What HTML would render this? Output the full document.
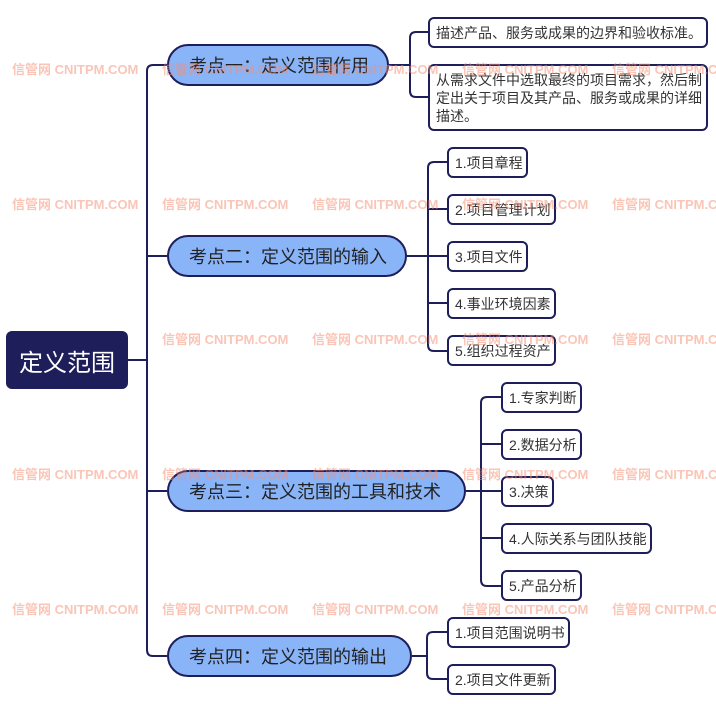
<!DOCTYPE html>
<html><head><meta charset="utf-8"><style>
body{margin:0;width:716px;height:704px;background:#fff;position:relative;overflow:hidden;font-family:"Liberation Sans","Noto Sans CJK SC",sans-serif;}
.wm{position:absolute;color:rgba(245,140,110,0.5);font-weight:bold;font-size:13px;white-space:nowrap;z-index:5;}
.n{position:absolute;box-sizing:border-box;border:2px solid #1e1f5a;background:#fff;border-radius:6px;color:#333;font-size:14px;display:flex;align-items:center;padding-left:6px;}
.m{position:absolute;box-sizing:border-box;border:2.5px solid #1e1f5a;background:#8ab4f8;border-radius:22px;color:#222;font-size:18px;display:flex;align-items:center;padding-left:20px;}
</style></head><body>
<svg width="716" height="704" style="position:absolute;left:0;top:0" fill="none" stroke="#1e1f5a" stroke-width="2">
<path d="M128 360H147"/>
<path d="M167 65H153Q147 65 147 71V650Q147 656 153 656H167"/>
<path d="M147 256H167M147 491H167"/>
<path d="M389 65H410"/>
<path d="M428 32H416Q410 32 410 38V91Q410 97 416 97H428"/>
<path d="M407 256H447"/>
<path d="M447 162H434Q428 162 428 168V345Q428 351 434 351H447"/>
<path d="M428 209H447M428 303H447"/>
<path d="M466 491H501"/>
<path d="M501 397H487Q481 397 481 403V580Q481 586 487 586H501"/>
<path d="M481 444H501M481 538H501"/>
<path d="M412 656H427"/>
<path d="M447 632H433Q427 632 427 638V673Q427 679 433 679H447"/>
</svg>
<div style="position:absolute;left:6px;top:331px;width:122px;height:58px;background:#1e1f5a;border-radius:6px;color:#fff;font-size:24px;display:flex;align-items:center;padding-left:13px;box-sizing:border-box">定义范围</div>
<div class="m" style="left:167px;top:44px;width:222px;height:42px">考点一：定义范围作用</div>
<div class="m" style="left:167px;top:235px;width:240px;height:42px">考点二：定义范围的输入</div>
<div class="m" style="left:167px;top:470px;width:299px;height:42px">考点三：定义范围的工具和技术</div>
<div class="m" style="left:167px;top:635px;width:245px;height:42px">考点四：定义范围的输出</div>
<div class="n" style="left:428px;top:17px;width:280px;height:31px">描述产品、服务或成果的边界和验收标准。</div>
<div class="n" style="left:428px;top:64px;width:280px;height:67px;line-height:18px;padding-right:4px">从需求文件中选取最终的项目需求，然后制定出关于项目及其产品、服务或成果的详细描述。</div>
<div class="n" style="left:447px;top:147px;width:81px;height:31px">1.项目章程</div>
<div class="n" style="left:447px;top:194px;width:109px;height:31px">2.项目管理计划</div>
<div class="n" style="left:447px;top:241px;width:81px;height:31px">3.项目文件</div>
<div class="n" style="left:447px;top:288px;width:109px;height:31px">4.事业环境因素</div>
<div class="n" style="left:447px;top:335px;width:109px;height:31px">5.组织过程资产</div>
<div class="n" style="left:501px;top:382px;width:81px;height:31px">1.专家判断</div>
<div class="n" style="left:501px;top:429px;width:81px;height:31px">2.数据分析</div>
<div class="n" style="left:501px;top:476px;width:53px;height:31px">3.决策</div>
<div class="n" style="left:501px;top:523px;width:151px;height:31px">4.人际关系与团队技能</div>
<div class="n" style="left:501px;top:570px;width:81px;height:31px">5.产品分析</div>
<div class="n" style="left:447px;top:617px;width:123px;height:31px">1.项目范围说明书</div>
<div class="n" style="left:447px;top:664px;width:109px;height:31px">2.项目文件更新</div>
<div class="wm" style="left:12px;top:59px">信管网 CNITPM.COM</div>
<div class="wm" style="left:162px;top:59px">信管网 CNITPM.COM</div>
<div class="wm" style="left:312px;top:59px">信管网 CNITPM.COM</div>
<div class="wm" style="left:462px;top:59px">信管网 CNITPM.COM</div>
<div class="wm" style="left:612px;top:59px">信管网 CNITPM.COM</div>
<div class="wm" style="left:12px;top:194px">信管网 CNITPM.COM</div>
<div class="wm" style="left:162px;top:194px">信管网 CNITPM.COM</div>
<div class="wm" style="left:312px;top:194px">信管网 CNITPM.COM</div>
<div class="wm" style="left:462px;top:194px">信管网 CNITPM.COM</div>
<div class="wm" style="left:612px;top:194px">信管网 CNITPM.COM</div>
<div class="wm" style="left:162px;top:329px">信管网 CNITPM.COM</div>
<div class="wm" style="left:312px;top:329px">信管网 CNITPM.COM</div>
<div class="wm" style="left:462px;top:329px">信管网 CNITPM.COM</div>
<div class="wm" style="left:612px;top:329px">信管网 CNITPM.COM</div>
<div class="wm" style="left:12px;top:464px">信管网 CNITPM.COM</div>
<div class="wm" style="left:162px;top:464px">信管网 CNITPM.COM</div>
<div class="wm" style="left:312px;top:464px">信管网 CNITPM.COM</div>
<div class="wm" style="left:462px;top:464px">信管网 CNITPM.COM</div>
<div class="wm" style="left:612px;top:464px">信管网 CNITPM.COM</div>
<div class="wm" style="left:12px;top:599px">信管网 CNITPM.COM</div>
<div class="wm" style="left:162px;top:599px">信管网 CNITPM.COM</div>
<div class="wm" style="left:312px;top:599px">信管网 CNITPM.COM</div>
<div class="wm" style="left:462px;top:599px">信管网 CNITPM.COM</div>
<div class="wm" style="left:612px;top:599px">信管网 CNITPM.COM</div>
</body></html>
